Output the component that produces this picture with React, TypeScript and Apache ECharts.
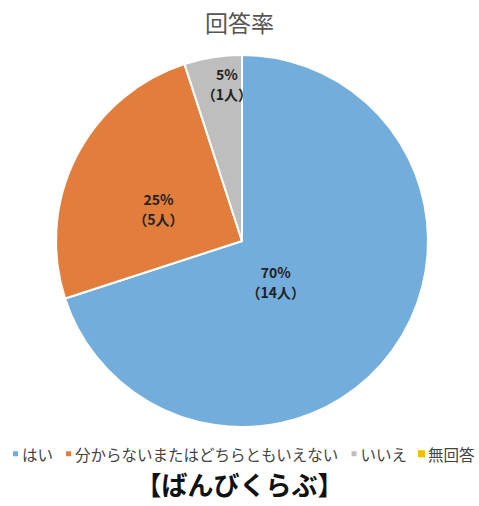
import React, { useEffect, useRef } from "react";
import * as echarts from "echarts";

const categories = ["はい", "分からないまたはどちらともいえない", "いいえ", "無回答"];
const counts = [14, 5, 1, 0];
const percents = [70, 25, 5, 0];
const colors = ["#72ADDC", "#E27D3B", "#BEBEBE", "#F2BE00"];
const titleText = "回答率";
const footerText = "【ばんびくらぶ】";

const labelShift: Record<number, [number, number]> = {
  0: [-44, -15],
  1: [2, 12],
  2: [0, -62],
};

export default function App() {
  const ref = useRef<HTMLDivElement>(null);
  useEffect(() => {
    document.body.style.margin = "0";
    const chart = echarts.init(ref.current!, null, { renderer: "svg" });
    const font = "'Noto Sans CJK JP', 'Noto Sans', sans-serif";
    chart.setOption({
      animation: false,
      backgroundColor: "#ffffff",
      textStyle: { fontFamily: font },
      title: [
        {
          text: titleText,
          left: "center",
          top: 5,
          textStyle: { fontSize: 23, fontWeight: "normal", color: "#555555", fontFamily: font },
        },
        {
          text: footerText,
          left: "center",
          top: 470,
          padding: 0,
          textStyle: { fontSize: 26, lineHeight: 26, fontWeight: "bold", color: "#111111", fontFamily: font },
        },
      ],
      legend: {
        top: 446,
        left: 11,
        width: 479,
        padding: 0,
        itemWidth: 7,
        itemHeight: 7,
        itemGap: 11,
        icon: "rect",
        textStyle: { fontSize: 15.5, lineHeight: 14, color: "#444444", fontFamily: font, padding: [0, 0, 0, -2] },
        data: categories,
      },
      series: [
        {
          type: "pie",
          center: [242, 241],
          radius: 186,
          startAngle: 90,
          clockwise: true,
          avoidLabelOverlap: false,
          itemStyle: { borderColor: "#ffffff", borderWidth: 2 },
          label: {
            show: true,
            position: "inside",
            fontSize: 14,
            fontWeight: "bold",
            color: "#222222",
            lineHeight: 20,
            fontFamily: font,
            formatter: (p: any) => `${percents[p.dataIndex]}%\n（${counts[p.dataIndex]}人）`,
          },
          labelLayout: (p: any) => {
            const s = labelShift[p.dataIndex] || [0, 0];
            return { dx: s[0], dy: s[1] };
          },
          data: categories.map((name, i) => ({
            name,
            value: counts[i],
            itemStyle: { color: colors[i], borderWidth: counts[i] === 0 ? 0 : 2 },
            label: { show: counts[i] !== 0 },
          })),
        },
      ],
    });
    return () => chart.dispose();
  }, []);
  return <div ref={ref} style={{ width: 479, height: 506 }} />;
}
